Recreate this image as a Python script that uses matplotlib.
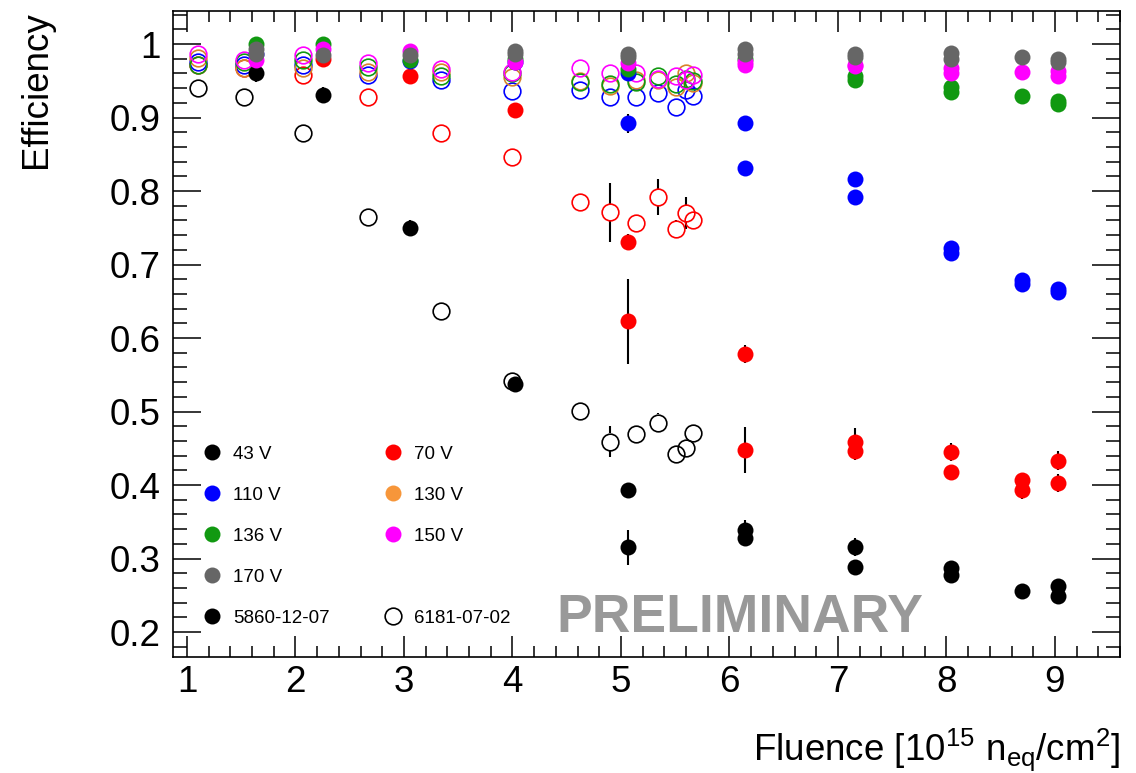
import matplotlib
matplotlib.use("Agg")
import matplotlib.pyplot as plt
from matplotlib.lines import Line2D
from matplotlib.ticker import MultipleLocator

plt.rcParams['font.family'] = ['Liberation Sans', 'DejaVu Sans']
plt.rcParams['mathtext.fontset'] = 'custom'
plt.rcParams['mathtext.rm'] = 'Liberation Sans'
plt.rcParams['mathtext.it'] = 'Liberation Sans:italic'

# ---- sample 5860-12-07 (filled markers) ----
f43_a = [1.64, 2.25, 3.06, 4.02, 5.065, 5.065, 6.14, 6.14, 7.16, 7.16, 8.04, 8.04, 8.70, 9.03, 9.03]
e43_a = [0.961, 0.931, 0.750, 0.538, 0.393, 0.315, 0.339, 0.328, 0.316, 0.289, 0.287, 0.277, 0.256, 0.263, 0.249]
u43_a = [0.012, 0.010, 0.010, 0.008, 0.005, 0.024, 0.014, 0.006, 0.012, 0.005, 0.010, 0.005, 0.006, 0.009, 0.006]

f70_a = [2.25, 3.06, 4.02, 5.065, 5.065, 6.14, 6.14, 7.16, 7.16, 8.04, 8.04, 8.70, 8.70, 9.03, 9.03]
e70_a = [0.980, 0.956, 0.910, 0.731, 0.623, 0.578, 0.448, 0.459, 0.446, 0.445, 0.418, 0.407, 0.393, 0.433, 0.403]
u70_a = [0.004, 0.004, 0.005, 0.010, 0.058, 0.012, 0.031, 0.018, 0.012, 0.012, 0.008, 0.010, 0.012, 0.013, 0.012]

f110_a = [1.64, 3.06, 4.02, 5.065, 5.065, 6.14, 6.14, 7.16, 7.16, 8.04, 8.04, 8.70, 8.70, 9.03, 9.03]
e110_a = [0.987, 0.977, 0.976, 0.961, 0.892, 0.893, 0.832, 0.816, 0.792, 0.722, 0.716, 0.679, 0.674, 0.667, 0.662]
u110_a = [0.003, 0.003, 0.003, 0.004, 0.013, 0.005, 0.006, 0.005, 0.006, 0.006, 0.006, 0.005, 0.005, 0.005, 0.005]

f136_a = [1.64, 2.25, 3.06, 4.02, 5.065, 6.14, 7.16, 7.16, 8.04, 8.04, 8.70, 9.03, 9.03]
e136_a = [1.000, 1.000, 0.978, 0.980, 0.966, 0.980, 0.957, 0.951, 0.942, 0.935, 0.929, 0.922, 0.918]

f150_a = [1.64, 2.25, 3.06, 4.02, 5.065, 6.14, 6.14, 7.16, 7.16, 8.04, 8.04, 8.70, 9.03, 9.03]
e150_a = [0.978, 0.993, 0.990, 0.976, 0.974, 0.976, 0.972, 0.972, 0.970, 0.967, 0.960, 0.962, 0.964, 0.957]

f170_a = [1.64, 1.64, 2.25, 3.06, 4.02, 4.02, 5.065, 5.065, 6.14, 6.14, 7.16, 7.16, 8.04, 8.04, 8.70, 9.03, 9.03]
e170_a = [0.993, 0.986, 0.985, 0.985, 0.990, 0.987, 0.986, 0.982, 0.993, 0.986, 0.987, 0.982, 0.988, 0.980, 0.982, 0.980, 0.976]

# ---- sample 6181-07-02 (open markers) ----
fl_b = [1.10, 1.525, 2.07, 2.67, 3.34, 4.00, 4.62, 4.90, 5.14, 5.34, 5.51, 5.60, 5.66]
e43_b = [0.940, 0.928, 0.879, 0.765, 0.637, 0.542, 0.501, 0.459, 0.469, 0.485, 0.442, 0.451, 0.471]
u43_b = [0.003, 0.003, 0.004, 0.004, 0.004, 0.005, 0.005, 0.021, 0.006, 0.013, 0.006, 0.010, 0.008]
e70_b = [0.971, 0.967, 0.958, 0.928, 0.879, 0.846, 0.785, 0.771, 0.757, 0.792, 0.748, 0.770, 0.760]
u70_b = [0.003, 0.003, 0.003, 0.004, 0.004, 0.005, 0.006, 0.040, 0.012, 0.025, 0.012, 0.022, 0.012]
e110_b = [0.976, 0.972, 0.971, 0.958, 0.951, 0.936, 0.937, 0.928, 0.928, 0.933, 0.915, 0.937, 0.929]
e130_b = [0.981, 0.967, 0.967, 0.962, 0.962, 0.955, 0.950, 0.943, 0.951, 0.951, 0.942, 0.960, 0.947]
e136_b = [0.971, 0.975, 0.978, 0.969, 0.956, 0.960, 0.949, 0.945, 0.949, 0.956, 0.945, 0.953, 0.950]
e150_b = [0.987, 0.978, 0.985, 0.974, 0.966, 0.962, 0.967, 0.960, 0.960, 0.952, 0.956, 0.951, 0.958]

voltages = ['43 V', '70 V', '110 V', '130 V', '136 V', '150 V', '170 V']
colors = ['black', '#ff0000', '#0000ff', '#f7963a', '#119911', '#ff00ff', '#666666']
open_colors = ['black', '#ff0000', '#0000ff', '#d9822b', '#119911', '#ff00ff', '#666666']
samples = ['5860-12-07', '6181-07-02']

ms = 11.5
ms_open = 12.0

fig = plt.figure(figsize=(11.36, 7.73), dpi=100)
ax = fig.add_axes([173 / 1136, 1 - 657 / 773, 947 / 1136, 646 / 773])
ax.set_xlim(0.871, 9.6)
ax.set_ylim(0.166, 1.045)

# half marker height in data units, so error bars stop at the ring (ROOT style)
ax_h_px = ax.get_position().height * fig.get_figheight() * fig.dpi
gap = (ms_open / 2) * fig.dpi / 72 * (ax.get_ylim()[1] - ax.get_ylim()[0]) / ax_h_px


def filled(x, y, c, err=None):
    ax.errorbar(x, y, yerr=err, fmt='o', color=c, ecolor='black', elinewidth=1.5,
                capsize=0, markersize=ms, markeredgewidth=0, zorder=3)


def hollow(x, y, c, err=None):
    if err is not None:
        for xi, yi, ei in zip(x, y, err):
            if ei > gap:
                ax.vlines([xi, xi], [yi - ei, yi + gap], [yi - gap, yi + ei],
                          color='black', linewidth=1.5, zorder=2)
    ax.plot(x, y, ls='none', marker='o', mfc='none', mec=c,
            markersize=ms_open, markeredgewidth=1.2, zorder=3)


# open sample
hollow(fl_b, e43_b, open_colors[0], u43_b)
hollow(fl_b, e70_b, open_colors[1], u70_b)
hollow(fl_b, e110_b, open_colors[2])
hollow(fl_b, e130_b, open_colors[3])
hollow(fl_b, e136_b, open_colors[4])
hollow(fl_b, e150_b, open_colors[5])

# filled sample
filled(f43_a, e43_a, colors[0], u43_a)
filled(f70_a, e70_a, colors[1], u70_a)
filled(f110_a, e110_a, colors[2], u110_a)
filled(f136_a, e136_a, colors[4])
filled(f150_a, e150_a, colors[5])
filled(f170_a, e170_a, colors[6])

ax.xaxis.set_major_locator(MultipleLocator(1))
ax.xaxis.set_minor_locator(MultipleLocator(0.2))
ax.yaxis.set_major_locator(MultipleLocator(0.1))
ax.yaxis.set_minor_locator(MultipleLocator(0.02))
ax.yaxis.set_major_formatter(plt.FuncFormatter(lambda v, p: '1' if abs(v - 1) < 1e-6 else f'{v:.1f}'))

ax.tick_params(which='both', direction='in', top=True, right=True, width=1.1, labelsize=26.5)
ax.tick_params(axis='x', which='major', length=15, pad=6)
ax.tick_params(axis='x', which='minor', length=8)
ax.tick_params(axis='y', which='major', length=20, pad=9)
ax.tick_params(axis='y', which='minor', length=10)
for s in ax.spines.values():
    s.set_linewidth(1.2)

ax.set_xlabel(r'Fluence [10$^{15}$ n$_{\mathrm{eq}}$/cm$^{2}$]', fontsize=26.5, loc='right', labelpad=19)
ax.set_ylabel('Efficiency', fontsize=26.5, loc='top', labelpad=40)

ax.text(0.599, 0.060, 'PRELIMINARY', transform=ax.transAxes, fontsize=38.5, fontweight='bold',
        color='#999999', ha='center', va='center', zorder=1)

# legend (column-wise: 43,110,136,170,5860 | 70,130,150,-,6181)
handles = []
labels = []
for i in [0, 2, 4, 6]:
    handles.append(Line2D([], [], ls='none', marker='o', color=colors[i], markersize=ms, markeredgewidth=0))
    labels.append(voltages[i])
handles.append(Line2D([], [], ls='none', marker='o', color='black', markersize=ms, markeredgewidth=0))
labels.append(samples[0])
for i in [1, 3, 5]:
    handles.append(Line2D([], [], ls='none', marker='o', color=colors[i], markersize=ms, markeredgewidth=0))
    labels.append(voltages[i])
handles.append(Line2D([], [], ls='none', marker=None))
labels.append('')
handles.append(Line2D([], [], ls='none', marker='o', mfc='none', mec='black', markersize=ms_open, markeredgewidth=1.2))
labels.append(samples[1])

ax.legend(handles, labels, ncol=2, loc='upper left', bbox_to_anchor=(0.0317, 0.327),
          frameon=False, fontsize=13.5, borderpad=0, borderaxespad=0, handlelength=1.0,
          handletextpad=0.62, labelspacing=1.27, columnspacing=2.85)

fig.savefig('out.png', dpi=100)
